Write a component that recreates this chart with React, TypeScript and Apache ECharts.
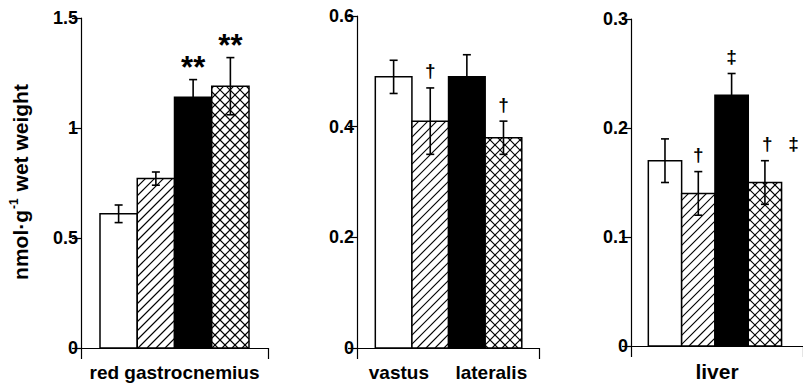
import React, { useEffect, useRef } from 'react';
import * as echarts from 'echarts';

// ---- data ----
const panelLabels = ['red gastrocnemius', 'vastus     lateralis', 'liver'];
const barPatterns = ['open', 'hatched', 'solid', 'crosshatched'];

const gastroValues = [0.61, 0.77, 1.14, 1.19];
const gastroErrors = [0.04, 0.03, 0.08, 0.13];
const gastroMarks = ['', '', '**', '**'];
const gastroTicks = [0, 0.5, 1, 1.5];

const vastusValues = [0.49, 0.41, 0.49, 0.38];
const vastusErrors = [0.03, 0.06, 0.04, 0.03];
const vastusMarks = ['', '†', '', '†'];
const vastusTicks = [0, 0.2, 0.4, 0.6];

const liverValues = [0.17, 0.14, 0.23, 0.15];
const liverErrors = [0.02, 0.02, 0.02, 0.02];
const liverMarks = ['', '†', '‡', '†   ‡'];
const liverTicks = [0, 0.1, 0.2, 0.3];

const yLabelMain = 'nmol·g';
const yLabelSup = '-1';
const yLabelEnd = ' wet weight';

// ---- layout / style ----
const FONT = '"Liberation Sans", Arial, Helvetica, sans-serif';
const panelsLayout = [
  { left: 81, top: 18, width: 187, height: 330, xMax: 5.02, start: 0.51, labelSize: 19 },
  { left: 357, top: 16, width: 182, height: 334, xMax: 4.97, start: 0.5, labelSize: 19 },
  { left: 631, top: 19, width: 182, height: 330, xMax: 5.163, start: 0.52, labelSize: 21 },
];

function hatchLines(xa: number, ya: number, xb: number, yb: number, s: number, dir: number) {
  const lines: any[] = [];
  if (dir > 0) {
    const cMin = Math.ceil((xa + ya) / s) * s;
    for (let c = cMin; c <= xb + yb; c += s) {
      const lo = Math.max(xa, c - yb);
      const hi = Math.min(xb, c - ya);
      if (hi > lo) lines.push([lo, c - lo, hi, c - hi]);
    }
  } else {
    const cMin = Math.ceil((xa - yb) / s) * s;
    for (let c = cMin; c <= xb - ya; c += s) {
      const lo = Math.max(xa, ya + c);
      const hi = Math.min(xb, yb + c);
      if (hi > lo) lines.push([lo, lo - c, hi, hi - c]);
    }
  }
  return lines.map((l) => ({
    type: 'line',
    shape: { x1: l[0], y1: l[1], x2: l[2], y2: l[3] },
    style: { stroke: '#000', lineWidth: 1.1 },
    silent: true,
  }));
}

function makeRender(start: number, marks: string[]) {
  return (params: any, api: any) => {
    const i = api.value(0);
    const v = api.value(1);
    const e = api.value(2);
    const p0 = api.coord([start + i, 0]);
    const p1 = api.coord([start + i + 1, v]);
    const x = p0[0];
    const w = p1[0] - p0[0];
    const yTop = p1[1];
    const yBase = p0[1];
    const pattern = barPatterns[i];
    const children: any[] = [];
    children.push({
      type: 'rect',
      shape: { x, y: yTop, width: w, height: yBase - yTop },
      style: { fill: pattern === 'solid' ? '#000' : '#fff' },
    });
    if (pattern === 'hatched') {
      children.push(...hatchLines(x, yTop, x + w, yBase, 9, 1));
    } else if (pattern === 'crosshatched') {
      children.push(...hatchLines(x, yTop, x + w, yBase, 10, 1));
      children.push(...hatchLines(x, yTop, x + w, yBase, 10, -1));
    }
    children.push({
      type: 'rect',
      shape: { x, y: yTop, width: w, height: yBase - yTop },
      style: { fill: 'none', stroke: '#000', lineWidth: 1.5 },
    });
    const cx = x + w / 2;
    const eTop = api.coord([start + i, v + e])[1];
    const eBot = api.coord([start + i, v - e])[1];
    const cap = 4;
    children.push(
      { type: 'line', shape: { x1: cx, y1: eTop, x2: cx, y2: eBot }, style: { stroke: '#000', lineWidth: 1.6 } },
      { type: 'line', shape: { x1: cx - cap, y1: eTop, x2: cx + cap, y2: eTop }, style: { stroke: '#000', lineWidth: 1.6 } },
      { type: 'line', shape: { x1: cx - cap, y1: eBot, x2: cx + cap, y2: eBot }, style: { stroke: '#000', lineWidth: 1.6 } }
    );
    const m = marks[params.dataIndex];
    if (m) {
      const isStar = m.indexOf('*') >= 0;
      const multi = m.indexOf(' ') >= 0;
      children.push({
        type: 'text',
        x: multi ? cx - 3 : cx,
        y: isStar ? eTop - 12 : eTop - 17,
        style: {
          text: m,
          fill: '#000',
          font: isStar ? `bold 31px ${FONT}` : `bold 19px ${FONT}`,
          align: multi ? 'left' : 'center',
          verticalAlign: 'middle',
        },
      });
    }
    return { type: 'group', children };
  };
}

export default function App() {
  const ref = useRef<HTMLDivElement>(null);
  useEffect(() => {
    if (!ref.current) return;
    const chart = echarts.init(ref.current, null, { renderer: 'svg' });
    const sets = [
      { values: gastroValues, errors: gastroErrors, marks: gastroMarks, ticks: gastroTicks },
      { values: vastusValues, errors: vastusErrors, marks: vastusMarks, ticks: vastusTicks },
      { values: liverValues, errors: liverErrors, marks: liverMarks, ticks: liverTicks },
    ];
    const grid = panelsLayout.map((p) => ({ left: p.left, top: p.top, width: p.width, height: p.height }));
    const xAxis = panelsLayout.map((p, k) => ({
      type: 'value',
      gridIndex: k,
      min: 0,
      max: p.xMax,
      interval: p.xMax,
      axisLine: { show: true, lineStyle: { color: '#000', width: 1.2 } },
      axisTick: { show: true, length: 11, lineStyle: { color: '#000', width: 1.2 } },
      axisLabel: { show: false },
      splitLine: { show: false },
      name: panelLabels[k],
      nameLocation: 'middle',
      nameGap: 15,
      nameTextStyle: { color: '#000', fontSize: p.labelSize, fontWeight: 'bold', fontFamily: FONT },
    }));
    const yAxis = sets.map((s, k) => ({
      type: 'value',
      gridIndex: k,
      min: s.ticks[0],
      max: s.ticks[s.ticks.length - 1],
      interval: s.ticks[1] - s.ticks[0],
      axisLine: { show: true, lineStyle: { color: '#000', width: 1.2 } },
      axisTick: { show: true, length: 9, lineStyle: { color: '#000', width: 1.2 } },
      axisLabel: {
        color: '#000',
        fontSize: 18,
        fontWeight: 'bold',
        fontFamily: FONT,
        margin: 3,
        formatter: (val: number) => String(Number(val.toFixed(2))),
      },
      splitLine: { show: false },
    }));
    const series = sets.map((s, k) => ({
      type: 'custom',
      xAxisIndex: k,
      yAxisIndex: k,
      renderItem: makeRender(panelsLayout[k].start, s.marks),
      data: s.values.map((v, i) => [i, v, s.errors[i]]),
      clip: false,
    }));
    chart.setOption({
      animation: false,
      backgroundColor: '#fff',
      grid,
      xAxis,
      yAxis,
      series,
      graphic: [
        {
          type: 'text',
          x: 19,
          y: 182,
          rotation: Math.PI / 2,
          style: {
            text: `{a|${yLabelMain}}{s|${yLabelSup}}{a|${yLabelEnd}}`,
            align: 'center',
            verticalAlign: 'middle',
            fill: '#000',
            rich: {
              a: { font: `bold 21px ${FONT}`, fill: '#000', lineHeight: 24, verticalAlign: 'bottom' },
              s: { font: `bold 12px ${FONT}`, fill: '#000', lineHeight: 24, verticalAlign: 'top', padding: [1, 1, 0, 1] },
            },
          },
        },
      ],
    });
    return () => chart.dispose();
  }, []);
  return <div ref={ref} style={{ width: 803, height: 387, position: 'absolute', left: 0, top: 0 }} />;
}
